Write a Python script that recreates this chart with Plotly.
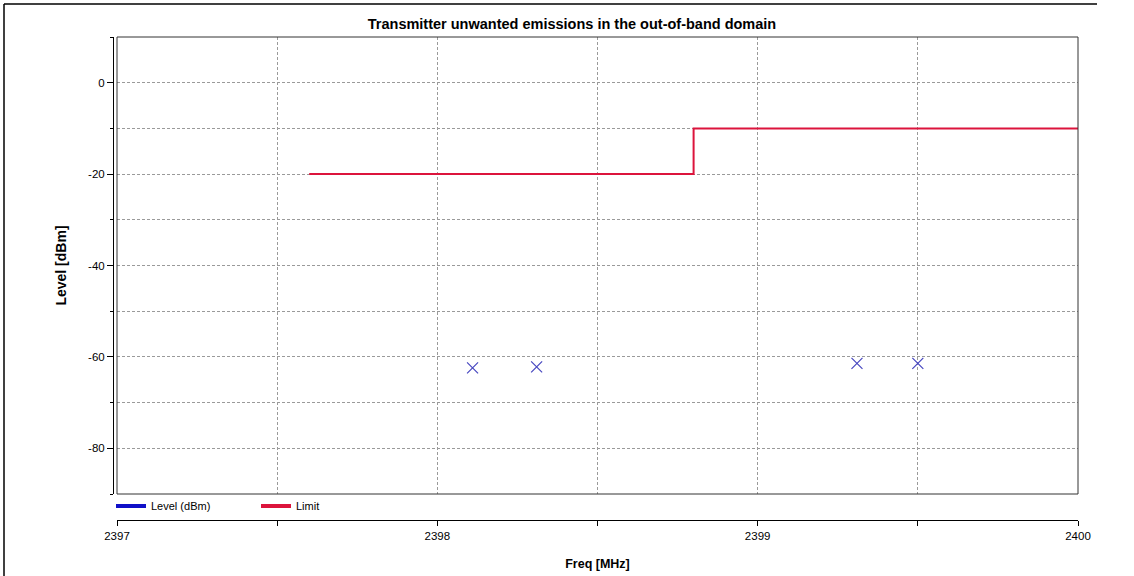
import plotly.graph_objects as go

# Data
limit_freq = [2397.6, 2398.8, 2398.8, 2400.0]
limit_level = [-20, -20, -10, -10]
level_freq = [2398.11, 2398.31, 2399.31, 2399.5]
level_dbm = [-62.4, -62.2, -61.4, -61.4]
x_ticks = [2397, 2397.5, 2398, 2398.5, 2399, 2399.5, 2400]
x_labels = ["2397", "", "2398", "", "2399", "", "2400"]
y_ticks = [0, -20, -40, -60, -80]
y_labels = ["0", "-20", "-40", "-60", "-80"]

FONT = "Liberation Sans Narrow, Arial Narrow, Liberation Sans, Arial"
GRID = "#9a9a9a"

fig = go.Figure()

fig.add_trace(go.Scatter(
    x=limit_freq, y=limit_level, mode="lines",
    line=dict(color="#dc143c", width=2), name="Limit",
    showlegend=False, xaxis="x", yaxis="y"))
fig.add_trace(go.Scatter(
    x=level_freq, y=level_dbm, mode="markers",
    marker=dict(symbol="x-thin", size=11, line=dict(color="#4848c0", width=1.2)),
    name="Level (dBm)", showlegend=False, xaxis="x", yaxis="y"))
# legend entries
fig.add_trace(go.Scatter(x=[None], y=[None], mode="lines",
                         line=dict(color="#1010c8", width=4), name="Level (dBm)"))
fig.add_trace(go.Scatter(x=[None], y=[None], mode="lines",
                         line=dict(color="#dc143c", width=4), name="Limit"))
fig.add_trace(go.Scatter(x=[None], y=[None], xaxis="x2", yaxis="y", showlegend=False))

ml, mr, mt, mb = 113, 56, 37, 56
W, H = 1134, 576
pw = W - ml - mr
ph = H - mt - mb
x0 = 4 / pw
ybot = (520 - 494) / ph

fig.update_layout(
    width=W, height=H,
    margin=dict(l=ml, r=mr, t=mt, b=mb, autoexpand=False),
    paper_bgcolor="white", plot_bgcolor="white",
    font=dict(family=FONT, size=12, color="black"),
    title=dict(text="<b>Transmitter unwanted emissions in the out-of-band domain</b>",
               x=(572 - ml) / pw, xref="paper", xanchor="center",
               y=1 - 24 / H, yanchor="middle",
               font=dict(family=FONT, size=14.5, color="black")),
    showlegend=True,
    legend=dict(orientation="h", x=-2 / pw, xanchor="left",
                y=(520 - 506) / ph, yanchor="middle",
                bgcolor="rgba(0,0,0,0)", itemwidth=30,
                entrywidth=100, entrywidthmode="pixels",
                font=dict(family=FONT, size=11)),
    xaxis=dict(domain=[x0, 1], range=[2397, 2400], anchor="y", automargin=False,
               showticklabels=False, ticks="", dtick=0.5, tick0=2397,
               showgrid=True, gridcolor=GRID, griddash="3px,2px", gridwidth=1,
               showline=False, zeroline=False),
    xaxis2=dict(domain=[x0, 1], range=[2397, 2400], anchor="free", position=0,
                overlaying="x", automargin=False,
                tickvals=x_ticks, ticktext=x_labels,
                ticks="outside", ticklen=5, tickcolor="black",
                showline=True, linecolor="black", linewidth=1, showgrid=False, zeroline=False,
                tickfont=dict(family=FONT, size=11.5),
                title=dict(text="<b>Freq [MHz]</b>", standoff=18,
                           font=dict(family=FONT, size=12.5))),
    yaxis=dict(domain=[ybot, 1], range=[-90, 10], anchor="free", position=0, automargin=False,
               tickvals=y_ticks, ticktext=y_labels,
               ticks="outside", ticklen=6, tickcolor="black",
               showline=True, linecolor="black", linewidth=1,
               showgrid=True, gridcolor=GRID, griddash="3px,2px",
               minor=dict(dtick=10, tick0=0, ticks="outside", ticklen=3, tickcolor="black",
                          showgrid=True, gridcolor=GRID, griddash="3px,2px"),
               zeroline=False, ticksuffix=" ",
               tickfont=dict(family=FONT, size=11.5),
               title=dict(text="<b>Level [dBm]</b>", standoff=17,
                          font=dict(family=FONT, size=14))),
)

# plot area box
fig.add_shape(type="rect", xref="x domain", yref="y domain", x0=0, x1=1, y0=0, y1=1,
              line=dict(color="#333333", width=1), layer="above")
# outer frame (top and left)
fig.add_shape(type="line", xref="paper", yref="paper",
              x0=(4 - ml) / pw, x1=(1097 - ml) / pw, y0=1 + (mt - 4) / ph, y1=1 + (mt - 4) / ph,
              line=dict(color="black", width=1.5))
fig.add_shape(type="line", xref="paper", yref="paper",
              x0=(4 - ml) / pw, x1=(4 - ml) / pw, y0=1 + (mt - 4) / ph, y1=-(mb) / ph,
              line=dict(color="black", width=1.5))

fig.write_html("out.html", config={"displayModeBar": False},
               post_script="document.body.style.margin='0';document.body.style.overflow='hidden';")
